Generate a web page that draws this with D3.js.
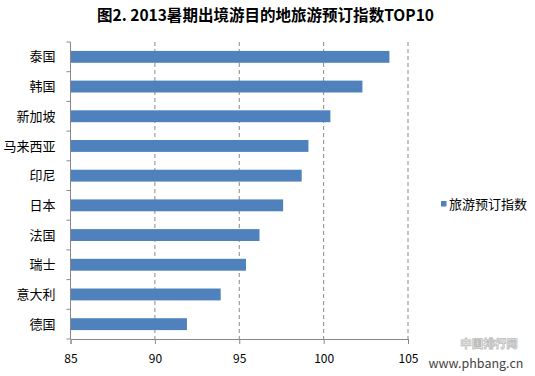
<!DOCTYPE html>
<html>
<head>
<meta charset="utf-8">
<script src="https://cdn.jsdelivr.net/npm/d3@7"></script>
<style>
  body { margin: 0; background: #fff; }
  text { font-family: "Noto Sans CJK SC", sans-serif; }
</style>
</head>
<body>
<div id="chart"></div>
<script>
const countries = ["泰国","韩国","新加坡","马来西亚","印尼","日本","法国","瑞士","意大利","德国"];
const bookingIndex = [103.9, 102.3, 100.4, 99.1, 98.7, 97.6, 96.2, 95.4, 93.9, 91.9];
const xTicks = [85, 90, 95, 100, 105];
const seriesName = "旅游预订指数";
const titleText = "图2. 2013暑期出境游目的地旅游预订指数TOP10";

const width = 535, height = 376;
const margin = {top: 42, left: 70.5, right: 127, bottom: 37};

const svg = d3.select("#chart").append("svg")
  .attr("width", width).attr("height", height);

const x = d3.scaleLinear().domain([85, 105]).range([margin.left, width - margin.right]);
const y = d3.scaleBand().domain(countries)
  .range([margin.top, height - margin.bottom]).paddingInner(0.6).paddingOuter(0.3);
const yLine = d3.scaleBand().domain(countries).range([margin.top, height - margin.bottom]);

// title
svg.append("text")
  .attr("x", 97).attr("y", 21)
  .attr("font-size", 16).attr("font-weight", "bold")
  .attr("textLength", 337).attr("lengthAdjust", "spacingAndGlyphs")
  .attr("fill", "#000")
  .text(titleText);

// dashed gridlines
svg.append("g").selectAll("line")
  .data(xTicks.slice(1))
  .join("line")
    .attr("x1", d => x(d)).attr("x2", d => x(d))
    .attr("y1", margin.top).attr("y2", height - margin.bottom)
    .attr("stroke", "#888").attr("stroke-dasharray", "4,3");

// bars
svg.append("g").selectAll("rect")
  .data(countries)
  .join("rect")
    .attr("x", x(85))
    .attr("y", d => y(d))
    .attr("width", (d, i) => x(bookingIndex[i]) - x(85))
    .attr("height", y.bandwidth())
    .attr("fill", "#4f81bd");

// x axis
const xAxis = svg.append("g")
  .attr("transform", `translate(0,${height - margin.bottom})`)
  .call(d3.axisBottom(x).tickValues(xTicks).tickSize(5).tickPadding(10));
xAxis.select(".domain").attr("stroke", "#888");
xAxis.selectAll(".tick line").attr("stroke", "#888");
xAxis.selectAll(".tick text").attr("font-size", 12).attr("fill", "#000")
  .attr("font-family", "Liberation Sans, Arial, sans-serif");

// y axis: left line + tick marks at band boundaries
const yg = svg.append("g");
yg.append("line")
  .attr("x1", x(85)).attr("x2", x(85))
  .attr("y1", margin.top).attr("y2", height - margin.bottom)
  .attr("stroke", "#888");
yg.selectAll("line.tk")
  .data(countries.concat(["_end"]))
  .join("line").attr("class", "tk")
    .attr("x1", x(85) - 4).attr("x2", x(85))
    .attr("y1", (d, i) => margin.top + i * yLine.bandwidth())
    .attr("y2", (d, i) => margin.top + i * yLine.bandwidth())
    .attr("stroke", "#888");
yg.selectAll("text")
  .data(countries)
  .join("text")
    .attr("x", 55.5)
    .attr("y", d => yLine(d) + yLine.bandwidth() / 2)
    .attr("dy", "0.35em")
    .attr("text-anchor", "end")
    .attr("font-size", 13)
    .text(d => d);

// legend
const lg = svg.append("g").attr("transform", "translate(441,201)");
lg.append("rect").attr("width", 5.5).attr("height", 5.5).attr("fill", "#4f81bd");
lg.append("text").attr("x", 8).attr("y", 3).attr("dy", "0.35em")
  .attr("font-size", 13).text(seriesName);

// watermark
svg.append("text").attr("x", 489).attr("y", 348).attr("text-anchor", "middle")
  .attr("font-size", 11.5).attr("font-weight", "bold").attr("fill", "#fff")
  .attr("stroke", "#bbb").attr("stroke-width", 0.8)
  .text("中国排行网");
svg.append("text").attr("x", 476).attr("y", 368).attr("text-anchor", "middle")
  .attr("font-size", 12.5).attr("fill", "#444")
  .attr("font-family", "Liberation Serif, serif")
  .text("www.phbang.cn");
</script>
</body>
</html>
